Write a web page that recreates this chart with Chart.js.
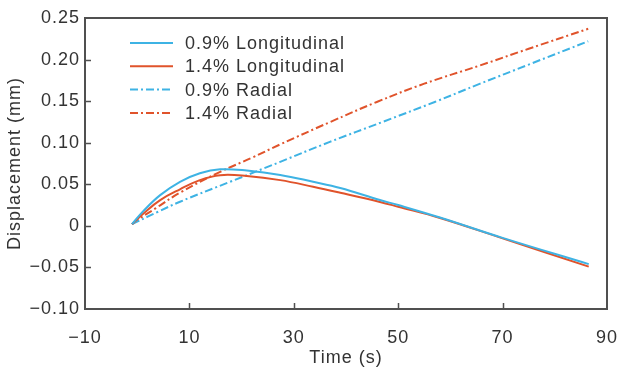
<!DOCTYPE html>
<html>
<head>
<meta charset="utf-8">
<script src="https://cdn.jsdelivr.net/npm/chart.js@4.4.0/dist/chart.umd.min.js"></script>
<style>
  html, body { margin: 0; padding: 0; background: #fff; }
  #wrap { width: 619px; height: 370px; }
</style>
</head>
<body>
<div id="wrap"><canvas id="chart"></canvas></div>
<script>
// values
const xTicks = [-10, 10, 30, 50, 70, 90];
const xTickLabels = ['\u221210', '10', '30', '50', '70', '90'];
const yTicks = [-0.10, -0.05, 0, 0.05, 0.10, 0.15, 0.20, 0.25];
const yTickLabels = ['\u22120.10', '\u22120.05', '0', '0.05', '0.10', '0.15', '0.20', '0.25'];

const timeLong = [-1, 1.2, 4.4, 8.2, 12, 15.9, 21, 27.4, 33.7, 38.9, 46.5, 50, 58, 70, 86.5];
const long09 = [0.002, 0.018, 0.037, 0.053, 0.0633, 0.068, 0.0665, 0.0613, 0.053, 0.0455, 0.031, 0.025, 0.010, -0.0145, -0.046];
const long14 = [0.002, 0.015, 0.031, 0.044, 0.055, 0.061, 0.060, 0.055, 0.047, 0.0398, 0.0288, 0.023, 0.0095, -0.015, -0.049];

const timeRad09 = [-1, 0, 4, 8.2, 17.8, 27.4, 36.9, 47, 57, 65.7, 75, 86.4];
const rad09 = [0.002, 0.005, 0.017, 0.029, 0.053, 0.077, 0.101, 0.125, 0.149, 0.171, 0.194, 0.222];
const timeRad14 = [-1, 0, 3.5, 8.2, 15.9, 22, 27.4, 37, 45.9, 55, 65.7, 75, 86.4];
const rad14 = [0.002, 0.007, 0.021, 0.040, 0.065, 0.082, 0.098, 0.125, 0.149, 0.171, 0.193, 0.213, 0.237];

const labels = ['0.9% Longitudinal', '1.4% Longitudinal', '0.9% Radial', '1.4% Radial'];
const BLUE = '#3eb3e4';
const RED = '#e0532b';
const AXIS = '#505050';
const TEXT = '#333333';
const FONT = "'Liberation Sans', Arial, sans-serif";
const dashDot = [8, 3, 2, 3];

const pts = (xs, ys) => xs.map((x, i) => ({ x: x, y: ys[i] }));

function series(label, xs, ys, color, dash) {
  return {
    label: label, data: pts(xs, ys),
    borderColor: color, backgroundColor: color, borderWidth: 2,
    borderDash: dash, pointRadius: 0, tension: 0.4, fill: false
  };
}

// the reference text is set a little loose
const spacing = {
  id: 'spacing',
  beforeDraw(chart) { chart.ctx.letterSpacing = '1px'; }
};

// box round the plot + inner tick marks + legend
const frame = {
  id: 'frame',
  afterDatasetsDraw(chart) {
    const { ctx, chartArea: a, scales } = chart;
    ctx.save();
    ctx.strokeStyle = AXIS;
    ctx.lineWidth = 2;
    ctx.strokeRect(a.left, a.top, a.right - a.left, a.bottom - a.top);
    ctx.lineWidth = 1.5;
    ctx.beginPath();
    xTicks.slice(1, -1).forEach(v => {
      const px = Math.round(scales.x.getPixelForValue(v)) + 0.5;
      ctx.moveTo(px, a.bottom); ctx.lineTo(px, a.bottom - 6);
    });
    yTicks.slice(1, -1).forEach(v => {
      const py = Math.round(scales.y.getPixelForValue(v)) + 0.5;
      ctx.moveTo(a.left, py); ctx.lineTo(a.left + 6, py);
    });
    ctx.stroke();

    // legend
    ctx.font = '18px ' + FONT;
    ctx.textBaseline = 'middle';
    ctx.fillStyle = TEXT;
    chart.data.datasets.forEach((ds, i) => {
      const y = a.top + 25 + i * 23.3;
      ctx.strokeStyle = ds.borderColor;
      ctx.lineWidth = 2;
      ctx.setLineDash(ds.borderDash || []);
      ctx.beginPath();
      ctx.moveTo(a.left + 45, y); ctx.lineTo(a.left + 88, y);
      ctx.stroke();
      ctx.setLineDash([]);
      ctx.fillText(ds.label, a.left + 100, y + 1);
    });
    ctx.restore();
  }
};

new Chart(document.getElementById('chart'), {
  type: 'line',
  data: {
    datasets: [
      series(labels[0], timeLong, long09, BLUE, []),
      series(labels[1], timeLong, long14, RED, []),
      series(labels[2], timeRad09, rad09, BLUE, dashDot),
      series(labels[3], timeRad14, rad14, RED, dashDot)
    ]
  },
  options: {
    responsive: true, maintainAspectRatio: false, animation: false,
    layout: { padding: { top: 18, right: 12, left: 0, bottom: 0 } },
    plugins: { legend: { display: false }, tooltip: { enabled: false } },
    scales: {
      x: {
        type: 'linear', min: -10, max: 90,
        afterBuildTicks: s => { s.ticks = xTicks.map(v => ({ value: v })); },
        afterFit: s => { s.height = 61; s.paddingLeft = 0; s.paddingRight = 0; },
        grid: { display: false, drawTicks: false },
        border: { display: false },
        ticks: { padding: 18, color: TEXT, font: { family: FONT, size: 18 }, maxRotation: 0,
          callback: (v, i) => xTickLabels[i] },
        title: { display: true, text: 'Time (s)', color: TEXT, font: { family: FONT, size: 18 }, padding: { top: 0, bottom: 1 } }
      },
      y: {
        min: -0.10, max: 0.25,
        afterBuildTicks: s => { s.ticks = yTicks.map(v => ({ value: v })); },
        afterFit: s => { s.width = 85; s.paddingTop = 0; s.paddingBottom = 0; },
        grid: { display: false, drawTicks: false },
        border: { display: false },
        ticks: { padding: 5, color: TEXT, font: { family: FONT, size: 18 },
          callback: (v, i) => yTickLabels[i] },
        title: { display: true, text: 'Displacement (mm)', color: TEXT, font: { family: FONT, size: 18 }, padding: { top: 4, bottom: 0 } }
      }
    }
  },
  plugins: [spacing, frame]
});
</script>
</body>
</html>
